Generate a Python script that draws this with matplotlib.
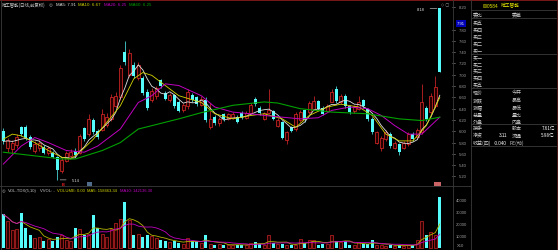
import numpy as np
import pandas as pd
import matplotlib
matplotlib.use("Agg")
import matplotlib.pyplot as plt
from matplotlib.lines import Line2D
from matplotlib.patches import Rectangle

plt.rcParams['font.family'] = ['Noto Sans CJK SC', 'DejaVu Sans']

W, H = 558, 251

# daily candles
opens = [6.00, 5.70, 5.68, 5.76, 6.08, 6.08, 5.90, 5.66, 5.70, 5.72,
         5.62, 5.62, 5.54, 5.30, 5.48, 5.56, 5.66, 5.62, 6.05, 5.95,
         6.20, 6.00, 6.02, 6.12, 6.22, 6.45, 6.60, 7.40, 7.00, 7.18,
         6.95, 6.95, 6.70, 6.55, 6.62, 6.90, 6.68, 6.56, 6.64, 6.52,
         6.38, 6.44, 6.64, 6.60, 6.46, 6.56, 6.08, 6.26, 6.14, 6.30,
         6.22, 6.24, 6.25, 6.33, 6.24, 6.32, 6.57, 6.42, 6.22, 6.33,
         6.36, 6.10, 6.16, 5.84, 6.07, 6.04, 6.20, 6.37, 6.34, 6.40,
         6.54, 6.42, 6.36, 6.51, 6.75, 6.51, 6.63, 6.44, 6.36, 6.39,
         6.55, 6.40, 6.22, 5.80, 5.71, 5.86, 5.95, 5.71, 5.77, 5.71,
         5.77, 5.95, 5.90, 5.98, 6.42, 6.34, 6.45, 8.18]
closes = [5.82, 5.84, 5.80, 5.90, 5.95, 5.88, 5.72, 5.78, 5.80, 5.62,
          5.70, 5.54, 5.32, 5.50, 5.62, 5.64, 5.58, 5.92, 5.86, 6.22,
          5.98, 5.90, 6.30, 6.26, 6.60, 6.62, 7.12, 7.22, 7.38, 6.98,
          7.18, 6.68, 6.42, 6.72, 6.76, 6.80, 6.58, 6.64, 6.45, 6.36,
          6.46, 6.70, 6.55, 6.48, 6.58, 6.20, 6.22, 6.14, 6.22, 6.22,
          6.30, 6.30, 6.16, 6.25, 6.33, 6.46, 6.48, 6.32, 6.32, 6.38,
          6.22, 6.20, 5.89, 5.98, 6.01, 6.30, 6.34, 6.20, 6.50, 6.54,
          6.40, 6.30, 6.45, 6.69, 6.54, 6.63, 6.45, 6.34, 6.44, 6.51,
          6.44, 6.22, 5.98, 5.98, 5.89, 5.98, 5.74, 5.80, 5.63, 5.80,
          5.95, 5.86, 6.02, 6.51, 6.22, 6.63, 6.78, 7.05]
highs = [6.05, 5.88, 5.84, 5.95, 6.10, 6.12, 5.94, 5.82, 5.84, 5.75,
         5.74, 5.65, 5.56, 5.54, 5.66, 5.68, 5.70, 5.96, 6.08, 6.30,
         6.24, 6.04, 6.40, 6.32, 6.66, 6.70, 7.18, 7.60, 7.45, 7.22,
         7.22, 6.98, 6.74, 6.76, 6.80, 6.93, 6.72, 6.68, 6.66, 6.55,
         6.50, 6.75, 6.68, 6.63, 6.62, 6.60, 6.50, 6.29, 6.25, 6.33,
         6.33, 6.34, 6.28, 6.36, 6.36, 6.50, 6.60, 6.45, 6.35, 6.75,
         6.38, 6.24, 6.18, 6.00, 6.10, 6.34, 6.37, 6.40, 6.53, 6.62,
         6.56, 6.44, 6.48, 6.75, 6.80, 6.66, 6.66, 6.46, 6.46, 6.62,
         6.58, 6.42, 6.25, 6.01, 5.92, 6.02, 5.98, 5.83, 5.79, 5.83,
         5.98, 5.98, 6.06, 6.84, 6.45, 6.68, 6.98, 8.18]
lows = [5.78, 5.64, 5.62, 5.70, 5.92, 5.85, 5.68, 5.62, 5.66, 5.60,
        5.58, 5.52, 5.14, 5.26, 5.45, 5.52, 5.55, 5.60, 5.82, 5.92,
        5.95, 5.86, 6.00, 6.08, 6.18, 6.42, 6.56, 7.18, 6.96, 6.94,
        6.90, 6.64, 6.38, 6.52, 6.58, 6.76, 6.55, 6.52, 6.42, 6.34,
        6.35, 6.40, 6.52, 6.45, 6.44, 6.17, 6.04, 6.12, 6.10, 6.19,
        6.20, 6.21, 6.14, 6.22, 6.22, 6.30, 6.45, 6.29, 6.20, 6.30,
        6.20, 6.08, 5.86, 5.78, 5.98, 6.00, 6.16, 6.17, 6.30, 6.38,
        6.37, 6.28, 6.34, 6.54, 6.50, 6.48, 6.42, 6.31, 6.33, 6.37,
        6.41, 6.19, 5.95, 5.77, 5.66, 5.83, 5.71, 5.68, 5.58, 5.68,
        5.74, 5.83, 5.87, 5.95, 6.19, 6.30, 6.42, 7.05]
volumes = [28000, 22500, 15000, 16000, 29000, 16500, 11000, 8000, 9000, 6000,
           7500, 5500, 9000, 11000, 6500, 6000, 17000, 16000, 11000, 12000,
           27500, 16500, 12000, 9500, 16000, 20500, 24000, 38600, 23000, 11000,
           11500, 9500, 11000, 10000, 8000, 6500, 5500, 5000, 6000, 4500,
           3500, 8000, 5500, 5500, 4000, 10500, 3000, 2500, 3000, 2600,
           2800, 2400, 2600, 2500, 2700, 4200, 5300, 3500, 2500, 11000,
           4000, 3200, 3600, 2800, 2500, 2800, 7200, 3800, 6800, 7000,
           2900, 3000, 3000, 10500, 5500, 5000, 5500, 2600, 2400, 5000,
           3000, 3200, 6500, 2500, 2200, 2000, 2600, 1800, 2500, 1500,
           2400, 2300, 6500, 22500, 11000, 13000, 11000, 42700]

# longer moving averages (need history before the window), read at sample points
ma10_idx = [0, 2, 4, 7, 10, 13, 15, 17, 20, 23, 26, 29, 31, 33, 36, 39, 44, 47, 51, 55,
            58, 62, 65, 68, 72, 75, 79, 82, 85, 88, 91, 94, 97]
ma10_val = [5.86, 5.95, 5.92, 5.80, 5.66, 5.54, 5.51, 5.63, 5.86, 6.16, 6.45, 6.93, 7.04,
            6.99, 6.81, 6.63, 6.51, 6.31, 6.22, 6.28, 6.31, 6.22, 6.07, 6.28, 6.43, 6.48,
            6.43, 6.28, 5.95, 5.83, 5.83, 6.10, 6.60]
ma20_idx = [0, 4, 7, 10, 14, 18, 21, 26, 30, 33, 36, 39, 44, 47, 51, 55, 58, 62, 66, 70,
            73, 77, 81, 84, 87, 90, 93, 95, 97]
ma20_val = [5.42, 5.74, 5.89, 5.80, 5.66, 5.63, 5.74, 6.04, 6.51, 6.63, 6.84, 6.81, 6.63,
            6.43, 6.34, 6.31, 6.28, 6.25, 6.22, 6.24, 6.37, 6.43, 6.40, 6.28, 6.10, 5.95,
            5.95, 6.10, 6.25]
ma60_idx = [0, 13, 16, 22, 26, 30, 33, 39, 44, 51, 58, 61, 66, 73, 81, 88, 93, 97]
ma60_val = [5.63, 5.51, 5.51, 5.66, 5.80, 6.04, 6.10, 6.22, 6.33, 6.46, 6.52, 6.50, 6.40,
            6.34, 6.31, 6.22, 6.19, 6.25]

price_ticks = [8.20, 7.80, 7.60, 7.40, 7.20, 7.00, 6.80, 6.60, 6.40, 6.20,
               6.00, 5.80, 5.60, 5.40, 5.20]
vol_ticks = [10000, 20000, 30000, 40000]

# order book panel
left_labels = ['委比', '卖五', '卖四', '卖三', '卖二', '卖一', '买一', '买二', '买三', '买四',
               '买五', '现价', '涨跌', '涨幅', '总量', '外盘', '换手', '净资', '收益(四)']
left_y = [14.5, 23, 30, 37.5, 44.5, 51.5, 58, 64.5, 71, 78, 85,
          93, 100.5, 108, 115.5, 122.5, 128.5, 136, 143.5]
right_labels = {'委比': '委差', '现价': '今开', '涨跌': '最高', '涨幅': '最低',
                '总量': '量比', '外盘': '内盘', '换手': '股本', '净资': '流通',
                '收益(四)': 'PE(动)'}
mid_values = {'净资': '3.11', '收益(四)': '-0.040'}
far_values = {'换手': '7.61亿', '净资': '5.98亿'}

RED = '#e82a2a'
CYAN = '#54fcfc'
GRID = '#3a3a3a'
WHITE = '#e0e0e0'
YEL = '#d4d400'
MAG = '#c000c0'
GRN = '#00a000'
LATIN = ['Liberation Sans', 'DejaVu Sans']


def fx(x):
    return x / W


def fy(y):
    return 1 - y / H


fig = plt.figure(figsize=(W / 100, H / 100), dpi=100, facecolor='black')
renderer = fig.canvas.get_renderer()


def chain(parts, x0, y, size, gap):
    # lay text pieces one after another so they never overlap
    xx = x0
    for txt, col, fam in parts:
        t = fig.text(fx(xx), fy(y), txt, color=col, fontsize=size, ha='left',
                     va='center', family=fam)
        xx += t.get_window_extent(renderer=renderer).width + gap


ax = fig.add_axes([0, fy(186), fx(452), (186 - 1) / H], facecolor='black')
axv = fig.add_axes([0, fy(250), fx(452), (250 - 187) / H], facecolor='black')

x = np.arange(len(closes))
o = np.array(opens)
c = np.array(closes)
hi = np.array(highs)
lo = np.array(lows)
up = c >= o

ax.vlines(x[up], lo[up], hi[up], color=RED, lw=0.5, zorder=2)
ax.vlines(x[~up], lo[~up], hi[~up], color=CYAN, lw=0.5, zorder=2)
ax.bar(x[up], c[up] - o[up], bottom=o[up], width=0.66, facecolor='#220000',
       edgecolor=RED, lw=0.5, zorder=3)
ax.bar(x[~up], o[~up] - c[~up], bottom=c[~up], width=0.66, color=CYAN, lw=0, zorder=3)

ma5 = pd.Series(closes).rolling(5, min_periods=1).mean()
ax.plot(x, ma5, color=WHITE, lw=0.6, zorder=4)
ax.plot(ma10_idx, ma10_val, color=YEL, lw=0.6, zorder=4)
ax.plot(ma20_idx, ma20_val, color=MAG, lw=0.7, zorder=4)
ax.plot(ma60_idx, ma60_val, color=GRN, lw=0.8, zorder=4)

xl = (-3.3 / 4.5, (452 - 3.3) / 4.5)
ax.set_xlim(*xl)
ax.set_ylim(8.20 - 178 / 56.5, 8.20 + 7 / 56.5)

# extreme labels
ax.annotate('5.14', xy=(12, 5.14), xytext=(15.2, 5.14), color=WHITE, fontsize=3,
            va='center', ha='left', family=LATIN,
            arrowprops=dict(arrowstyle='-', color=WHITE, lw=0.4))
ax.annotate('8.18', xy=(97, 8.18), xytext=(93.6, 8.16), color=WHITE, fontsize=3,
            va='center', ha='right', family=LATIN,
            arrowprops=dict(arrowstyle='-', color=WHITE, lw=0.4))
ax.text(13.2, 5.075, 'B', color='#ff2020', fontsize=2.8, ha='center', va='center',
        family=LATIN, weight='bold')

# small marker boxes under the price panel and the top-right toggles
fig.add_artist(Rectangle((fx(87), fy(187)), 5 / W, 4 / H, fc='#506e8c', ec='none'))
fig.add_artist(Rectangle((fx(434), fy(187)), 7 / W, 4 / H, fc='#c86464', ec='none'))
fig.text(fx(441), fy(5), '◇ ▢', color='#a0a0a0', fontsize=3, ha='left', va='center',
         family=['DejaVu Sans'])

# price axis on the right of the chart
for p in price_ticks:
    yy = 8 + (8.20 - p) * 56.5
    fig.text(fx(467), fy(yy), f'{p:.2f}', color='#a0a0a0', fontsize=3,
             ha='right', va='center', family=LATIN)
    fig.add_artist(Line2D([fx(452), fx(455)], [fy(yy)] * 2, color='#909090', lw=0.4))
fig.text(fx(461), fy(8 + (8.20 - 7.91) * 56.5), '7.91', color='white', fontsize=3,
         ha='center', va='center', family=LATIN,
         bbox=dict(boxstyle='square,pad=0.3', fc='#0000b4', ec='none'))

# volume panel
v = np.array(volumes)
axv.bar(x[up], v[up], width=0.66, facecolor='#2a0000', edgecolor='#c82424', lw=0.5, zorder=2)
axv.bar(x[~up], v[~up], width=0.66, color=CYAN, lw=0, zorder=2)
vma5 = pd.Series(volumes).rolling(5, min_periods=1).mean()
vma10 = pd.Series(volumes).rolling(10, min_periods=1).mean()
axv.plot(x, vma5, color='#b4b400', lw=0.6, zorder=3)
axv.plot(x, vma10, color=MAG, lw=0.6, zorder=3)
axv.set_xlim(*xl)
axv.set_ylim(-833, 51650)

for vt in vol_ticks:
    fig.text(fx(467), fy(249 - vt / 833), str(vt), color='#a0a0a0', fontsize=3,
             ha='right', va='center', family=LATIN)
fig.text(fx(457), fy(246.5), 'X10', color='#a0a0a0', fontsize=3, ha='left', va='center',
         family=LATIN)

for a in (ax, axv):
    a.set_xticks([])
    a.set_yticks([])
    for s in a.spines.values():
        s.set_visible(False)

# titles
chain([('哈工智能(日线,前复权)', '#c8c8c8', ['Noto Sans CJK SC', 'DejaVu Sans']),
       ('◎', '#a0a0a0', ['DejaVu Sans']),
       ('MA5: 7.91', WHITE, LATIN), ('MA10: 6.67', YEL, LATIN),
       ('MA20: 6.25', MAG, LATIN), ('MA60: 6.25', GRN, LATIN)],
      2, 5.5, 3.2, 3)
chain([('◎', '#a0a0a0', ['DejaVu Sans']), ('VOL-TDX(5,10)', '#c8c8c8', LATIN),
       ('VVOL: -', '#c8c8c8', LATIN), ('VOLUME: 0.00', YEL, LATIN),
       ('MA5: 158463.34', YEL, LATIN), ('MA10: 142136.30', MAG, LATIN)],
      2, 191, 3.0, 2.5)

# frame lines
lines = [
    ([0, W], [0.6, 0.6], '#8b1c1c'),
    ([452.5, 452.5], [0, H], GRID),
    ([471, 471], [0, H], GRID),
    ([556.5, 556.5], [0, H], '#5a1c1c'),
    ([1.2, 1.2], [0, H], GRID),
    ([0, 471], [186.5, 186.5], GRID),
    ([471, 556], [10.5, 10.5], GRID),
    ([471, 556], [18.8, 18.8], GRID),
    ([471, 556], [54.6, 54.6], GRID),
    ([471, 556], [89, 89], GRID),
    ([471, 556], [125.3, 125.3], GRID),
    ([471, 556], [147, 147], GRID),
]
for xs, ys, col in lines:
    fig.add_artist(Line2D([fx(xx) for xx in xs], [fy(yy) for yy in ys], color=col, lw=0.6))

# order book panel text
chain([('000584', '#e8e800', LATIN), ('哈工智能', '#e8e800', ['Noto Sans CJK SC'])],
      483, 6, 3.4, 2)
for lab, yy in zip(left_labels, left_y):
    fig.text(fx(472.5), fy(yy), lab, color='#c8c8c8', fontsize=3.6, ha='left', va='center')
    if lab in right_labels:
        fig.text(fx(509 if lab == '收益(四)' else 512), fy(yy), right_labels[lab],
                 color='#c8c8c8', fontsize=3.6, ha='left', va='center')
    if lab in mid_values:
        fig.text(fx(507), fy(yy), mid_values[lab], color='white', fontsize=3.3,
                 ha='right', va='center', family=LATIN)
    if lab in far_values:
        fig.text(fx(555), fy(yy), far_values[lab], color='white', fontsize=3.3,
                 ha='right', va='center')

fig.savefig('out.png', dpi=100, facecolor='black')
